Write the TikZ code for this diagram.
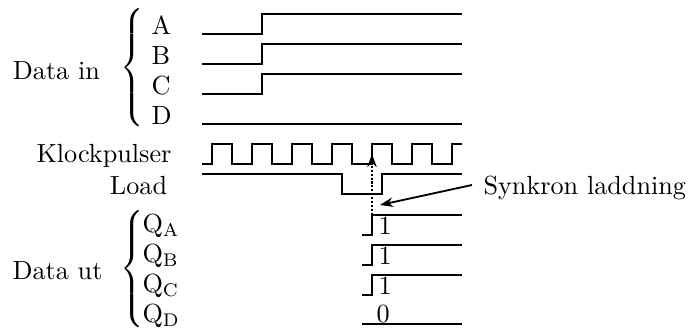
\documentclass[tikz,border=0pt]{standalone}
\usepackage{amsmath, graphicx}
\usetikzlibrary{arrows.meta}
\tikzset{
	signal/.style = {line width = 0.7pt},
	lbl/.style = {inner sep = 0, anchor = base west},
	klammer/.style = {inner sep = 0, anchor = west},
}
\newcommand{\tallbrace}{\scalebox{1}[1.07]{$\left\{\vrule height 20pt depth 20pt width 0pt\right.$}}

\begin{document}
\begin{tikzpicture}[>={Stealth[length = 5pt, width = 3.6pt]}, x = 0.2682cm, y = 0.2682cm]
	\useasboundingbox (0, 0) rectangle (34.45, -16.7);
	% data in
	\node [lbl] (datain) at (0.62, -4) {Data in};
	\node [klammer] (bracein) at (6, -3.5) {\tallbrace};
	\foreach \y/\name in {0/A, 1.5/B, 3/C}
	{
		\node [lbl] (in\name) at (7.55, -1.75 - \y) {\name};
		\draw[signal] (10.1, -1.7 - \y) -- (13.1, -1.7 - \y) -- (13.1, -0.7 - \y) -- (23.1, -0.7 - \y);
	}
	\node [lbl] (inD) at (7.55, -6.25) {D};
	\draw[signal] (10.1, -6.2) -- (23.1, -6.2);
	% klocka och load
	\node [lbl] (klocka) at (1.8, -8.15) {Klockpulser};
	\node [lbl] (load) at (5.47, -9.75) {Load};
	\draw[signal] (10.1, -8.2) \foreach \x in {10.6, 12.6, ..., 20.6} { -- (\x, -8.2) -- (\x, -7.2) -- (\x + 1, -7.2) -- (\x + 1, -8.2) } -- (22.6, -8.2) -- (22.6, -7.2) -- (23.1, -7.2);
	\draw[signal] (10.1, -8.7) -- (17.1, -8.7) -- (17.1, -9.7) -- (19.1, -9.7) -- (19.1, -8.7) -- (23.1, -8.7);
	% data ut
	\node [lbl] (dataut) at (0.6, -14) {Data ut};
	\node [klammer] (braceut) at (6, -13.55) {\tallbrace};
	\foreach \y/\name in {0/A, 1.5/B, 3/C}
	{
		\node [lbl] (ut\name) at (7.1, -11.65 - \y) {$\mathrm{Q_\name}$};
		\node [lbl] (bit\name) at (18.9, -11.75 - \y) {1};
		\draw[signal] (18.1, -11.75 - \y) -- (18.6, -11.75 - \y) -- (18.6, -10.75 - \y) -- (23.1, -10.75 - \y);
	}
	\node [lbl] (utD) at (7.1, -16.15) {$\mathrm{Q_D}$};
	\node [lbl] (bitD) at (18.8, -16.15) {0};
	\draw[signal] (18.1, -16.2) -- (23.1, -16.2);
	% synkron laddning
	\coordinate (rise) at (18.6, -10.75);
	\coordinate (clk) at (18.6, -7.7);
	\coordinate (tip) at (19, -10.25);
	\coordinate (tail) at (23.6, -9.25);
	\node [lbl] (synk) at (24.15, -9.75) {Synkron laddning};
	\draw[signal, dash pattern = on 0.8pt off 0.7pt, ->] (rise) -- (clk);
	\draw[signal, ->] (tail) -- (tip);
\end{tikzpicture}
\end{document}
